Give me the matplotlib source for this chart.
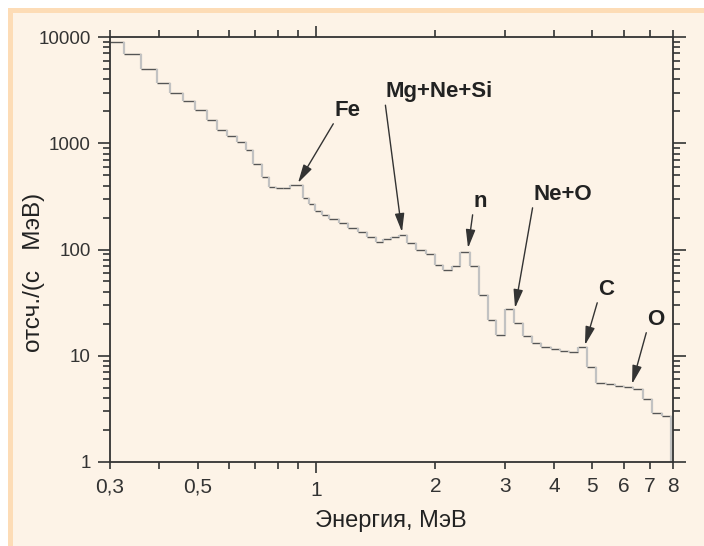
import matplotlib.pyplot as plt
from matplotlib.patches import Rectangle

plt.rcParams['font.family'] = ['Liberation Sans', 'DejaVu Sans']

# bin edges (MeV) and counts per bin
edges = [0.300, 0.3255, 0.3593, 0.3946, 0.4257, 0.4592, 0.4925, 0.5282, 0.5599,
         0.5935, 0.6291, 0.6632, 0.6909, 0.7281, 0.7584, 0.7900, 0.8229, 0.8569,
         0.9246, 0.9576, 0.9917, 1.033, 1.076, 1.140, 1.202, 1.274, 1.343, 1.416,
         1.474, 1.545, 1.619, 1.696, 1.787, 1.894, 1.997, 2.092, 2.205, 2.310,
         2.449, 2.581, 2.720, 2.850, 3.003, 3.166, 3.337, 3.516, 3.706, 3.928,
         4.140, 4.362, 4.598, 4.846, 5.107, 5.413, 5.705, 6.012, 6.337, 6.718,
         7.079, 7.505, 7.909]
counts = [8970, 6990, 5000, 3730, 3000, 2500, 2060, 1655, 1347, 1170, 1027, 864,
          638, 481, 387, 379, 379, 405, 305, 268, 230, 211, 194, 178, 159, 146,
          131, 118, 126, 131, 137, 115, 99, 90.7, 71.5, 64.1, 69.9, 94.7, 69.9,
          37.3, 21.7, 15.7, 27.5, 20.3, 15.3, 13.2, 12.1, 11.6, 11.1, 10.8, 12.1,
          7.84, 5.54, 5.42, 5.19, 5.08, 4.87, 3.92, 2.89, 2.71]

# peaks marked with arrows: label, energy, counts
peak_labels = ['Fe', 'Mg+Ne+Si', 'n', 'Ne+O', 'C', 'O']
peak_energy = [0.898, 1.647, 2.421, 3.184, 4.787, 6.301]
peak_counts = [423, 146, 103, 28.1, 12.6, 5.42]
# where each label sits (energy, counts)
label_pos = [(1.114, 1805), (1.492, 2700), (2.492, 251), (3.537, 292),
             (5.167, 37.3), (6.876, 19.5)]

xticks = [0.3, 0.4, 0.5, 0.6, 0.7, 0.8, 0.9, 2, 3, 4, 5, 6, 7, 8]
xticklabels = ['0,3', '', '0,5', '', '', '', '', '2', '3', '4', '5', '6', '7', '8']

W, H = 704, 546
fig = plt.figure(figsize=(W / 100, H / 100), dpi=100, facecolor='white')

# page background: orange band and cream panel
fig.patches.append(Rectangle((8 / W, 0), 1, 1 - 8 / H, transform=fig.transFigure,
                             facecolor='#fddcb6', edgecolor='none', zorder=-10))
fig.patches.append(Rectangle((13 / W, 0), 1, 1 - 13 / H, transform=fig.transFigure,
                             facecolor='#fdf3e7', edgecolor='none', zorder=-9))

ax = fig.add_axes([110 / W, 1 - 462 / H, 563 / W, 425 / H])
ax.set_facecolor('none')
ax.set_xscale('log')
ax.set_yscale('log')
ax.set_xlim(0.3, 8)
ax.set_ylim(1, 10000)

ymin = ax.get_ylim()[0]
ax.hlines(counts, edges[:-1], edges[1:], colors='#555555', lw=1.0)
ax.vlines(edges[1:-1], counts[:-1], counts[1:], colors='#c2c2c2', lw=1.6)
ax.vlines(edges[-1], ymin, counts[-1], colors='#c2c2c2', lw=1.6)

for lab, ex, cy, pos in zip(peak_labels, peak_energy, peak_counts, label_pos):
    ax.annotate(lab, xy=(ex, cy), xytext=pos, ha='left', va='baseline',
                fontsize=16, fontweight='bold', color='#222222',
                arrowprops=dict(arrowstyle='-|>,head_length=0.7,head_width=0.18',
                                color='#333333', lw=1.0, relpos=(0, 0),
                                shrinkA=0, shrinkB=0))

# x ticks: 1 is the only long one
ax.set_xticks([1])
ax.set_xticklabels(['1'])
ax.set_xticks(xticks, minor=True)
ax.set_xticklabels(xticklabels, minor=True)
ax.set_yticks([1, 10, 100, 1000, 10000])
ax.set_yticklabels(['1', '10', '100', '1000', '10000'])

ax.tick_params(axis='x', which='both', direction='out', top=True, colors='#333333',
               labelsize=15, pad=6, width=1.2)
ax.tick_params(axis='x', which='major', length=8)
ax.tick_params(axis='x', which='minor', length=5)
ax.tick_params(axis='y', which='both', direction='out', right=True, colors='#333333',
               labelsize=13.5, pad=5, width=1.2)
ax.tick_params(axis='y', which='major', length=9)
ax.tick_params(axis='y', which='minor', length=5)
for sp in ax.spines.values():
    sp.set_color('#333333')
    sp.set_linewidth(1.3)

fig.text(391 / W, 1 - 521 / H, 'Энергия, МэВ', ha='center', va='center',
         fontsize=17, color='#222222')
fig.text(34 / W, 1 - 272 / H, 'отсч./(с   МэВ)', ha='center', va='center',
         rotation=90, fontsize=17.5, color='#222222')

fig.savefig('out.png', dpi=100, facecolor=fig.get_facecolor())
